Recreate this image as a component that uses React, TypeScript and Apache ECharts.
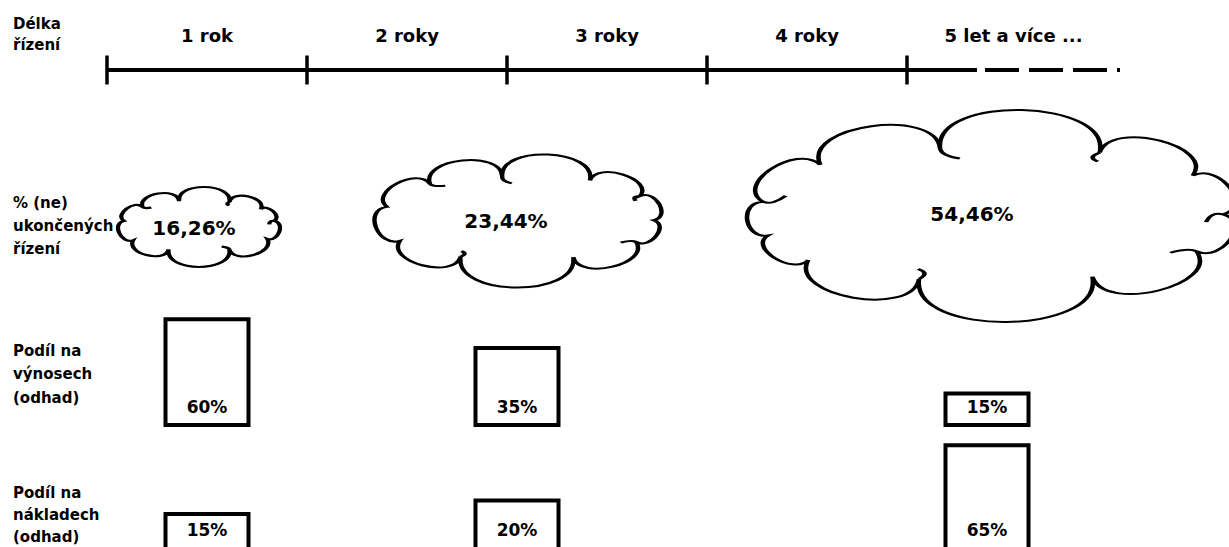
import React, { useEffect, useRef } from 'react';
import * as echarts from 'echarts';

// ---------- data ----------
const periods = ['1 rok', '2 roky', '3 roky', '4 roky', '5 let a více ...'];
const timelineTicks = [0, 1, 2, 3, 4]; // years
const timelineSolidEnd = 4.35;
const timelineDashStart = 4.39;
const timelineEnd = 5.065;

const groupYears = [0.5, 2.05, 4.4];
const unfinishedShare = [16.26, 23.44, 54.46]; // % (ne)ukončených řízení
const revenueShare = [60, 35, 15]; // Podíl na výnosech (odhad)
const costShare = [15, 20, 65]; // Podíl na nákladech (odhad)

const rowLabels = [
  'Délka\nřízení',
  '% (ne)\nukončených\nřízení',
  'Podíl na\nvýnosech\n(odhad)',
  'Podíl na\nnákladech\n(odhad)',
];

// ---------- styles ----------
const FONT = '"DejaVu Sans", "Liberation Sans", sans-serif';
const INK = '#000';
const X_MAX = 5.61; // 200 px per year from x=107
const cloudSizes = [
  [162, 80],
  [287, 133],
  [488, 212],
];
const cloudOffsets = [
  [-8, 7],
  [1, 1],
  [4, -4],
];
const cloudLabelOffsets = [
  [-5, 1],
  [-12, 0],
  [-19, -2],
];

function cloudPath(angles: number[], curls: number[]): string {
  const cx = 100, cy = 50, rx = 80, ry = 34, p = 0.85;
  const sp = (v: number) => Math.sign(v) * Math.pow(Math.abs(v), p);
  const pts = angles.map((a) => {
    const r = (a * Math.PI) / 180;
    return [cx + rx * sp(Math.cos(r)), cy + ry * sp(Math.sin(r))];
  });
  const f = (v: number) => v.toFixed(2);
  const n = pts.length;
  let d = `M${f(pts[0][0])} ${f(pts[0][1])}`;
  for (let i = 0; i < n; i++) {
    const A = pts[i];
    const B = pts[(i + 1) % n];
    const dx = B[0] - A[0];
    const dy = B[1] - A[1];
    const len = Math.hypot(dx, dy);
    const nx = dy / len;
    const ny = -dx / len;
    const k = 0.5 * len;
    const c1 = [A[0] + nx * k - dx * 0.06, A[1] + ny * k - dy * 0.06];
    const c2 = [B[0] + nx * k + dx * 0.06, B[1] + ny * k + dy * 0.06];
    d += ` C${f(c1[0])} ${f(c1[1])} ${f(c2[0])} ${f(c2[1])} ${f(B[0])} ${f(B[1])}`;
  }
  d += ' Z';
  curls.forEach((i) => {
    const P = pts[i];
    let ux = cx - P[0];
    let uy = cy - P[1];
    const ul = Math.hypot(ux, uy);
    ux /= ul;
    uy /= ul;
    const prev = pts[(i - 1 + n) % n];
    const next = pts[(i + 1) % n];
    let tx = next[0] - prev[0];
    let ty = next[1] - prev[1];
    const tl = Math.hypot(tx, ty);
    tx /= tl;
    ty /= tl;
    const q1 = [P[0] + ux * 4 - tx * 1.5, P[1] + uy * 4 - ty * 1.5];
    const q2 = [P[0] + ux * 6 + tx * 4, P[1] + uy * 6 + ty * 4];
    d += ` M${f(P[0])} ${f(P[1])} Q${f(q1[0])} ${f(q1[1])} ${f(q2[0])} ${f(q2[1])}`;
  });
  return 'path://' + d;
}

const cloudSymbols = [
  cloudPath([-172, -135, -102, -70, -38, -8, 28, 70, 110, 148], [1, 3, 5, 7]),
  cloudPath([-168, -128, -95, -62, -28, 2, 32, 70, 112, 150], [1, 2, 4, 6, 8]),
  cloudPath([-172, -135, -100, -66, -32, 0, 30, 68, 105, 140, 165], [0, 2, 3, 5, 6, 8]),
];

export default function App() {
  const ref = useRef<HTMLDivElement>(null);

  useEffect(() => {
    if (!ref.current) return;
    const chart = echarts.init(ref.current, undefined, { renderer: 'svg' });

    const grids = [
      { left: 107, right: 0, top: 0, height: 140 },
      { left: 107, right: 0, top: 100, height: 240 },
      { left: 107, right: 0, top: 289.9, height: 135.1 },
      { left: 107, right: 0, top: 423, height: 124 },
    ];

    const xAxes = grids.map((_, i) => ({
      gridIndex: i,
      type: 'value',
      min: 0,
      max: X_MAX,
      show: false,
    }));

    const yAxes = [
      { gridIndex: 0, type: 'value', min: -1, max: 1, show: false },
      { gridIndex: 1, type: 'value', min: -1, max: 1, show: false },
      { gridIndex: 2, type: 'log', min: 8, max: 100, show: false },
      { gridIndex: 3, type: 'log', min: 7.1, max: 100, show: false },
    ];

    const periodMids = periods.map((_, i) => {
      const a = timelineTicks[i];
      const b = i + 1 < timelineTicks.length ? timelineTicks[i + 1] : timelineEnd;
      return (a + b) / 2;
    });

    const barLabel = (distance: number) => ({
      show: true,
      position: 'insideBottom',
      distance,
      formatter: (p: any) => `${p.value[1]}%`,
      fontFamily: FONT,
      fontWeight: 'bold',
      fontSize: 17,
      color: INK,
    });

    const barStyle = {
      color: '#fff',
      borderColor: '#000',
      borderWidth: 4,
      opacity: 1,
    };

    const option: any = {
      animation: false,
      backgroundColor: '#fff',
      grid: grids,
      xAxis: xAxes,
      yAxis: yAxes,
      graphic: [
        { x: 13, y: 13.5, lh: 21 },
        { x: 13, y: 191.5, lh: 23 },
        { x: 13, y: 339, lh: 23.5 },
        { x: 13, y: 482, lh: 22 },
      ].map((pos, i) => ({
        type: 'text',
        x: pos.x,
        y: pos.y,
        style: {
          text: rowLabels[i],
          fontFamily: FONT,
          fontWeight: 'bold',
          fontSize: 15,
          lineHeight: pos.lh,
          fill: INK,
          verticalAlign: 'top',
          align: 'left',
        },
      })),
      series: [
        {
          type: 'line',
          xAxisIndex: 0,
          yAxisIndex: 0,
          data: [
            [timelineTicks[0], 0],
            [timelineSolidEnd, 0],
          ],
          symbol: 'none',
          lineStyle: { color: '#000', width: 4, cap: 'butt', opacity: 1 },
          silent: true,
        },
        {
          type: 'line',
          xAxisIndex: 0,
          yAxisIndex: 0,
          data: [
            [timelineDashStart, 0],
            [timelineEnd, 0],
          ],
          symbol: 'none',
          lineStyle: { color: '#000', width: 4, type: [34, 10], cap: 'butt', opacity: 1 },
          silent: true,
        },
        {
          type: 'scatter',
          xAxisIndex: 0,
          yAxisIndex: 0,
          data: timelineTicks.map((t) => [t, 0]),
          symbol: 'rect',
          symbolSize: [3.5, 29],
          itemStyle: { color: '#000', opacity: 1 },
          silent: true,
        },
        {
          type: 'scatter',
          xAxisIndex: 0,
          yAxisIndex: 0,
          data: periods.map((name, i) => ({ name, value: [periodMids[i], 0] })),
          symbolSize: 1,
          itemStyle: { color: 'rgba(255,255,255,0)', opacity: 1 },
          label: {
            show: true,
            position: 'inside',
            offset: [0, -35],
            formatter: '{b}',
            fontFamily: FONT,
            fontWeight: 'bold',
            fontSize: 18,
            color: INK,
            opacity: 1,
          },
          silent: true,
        },
        {
          type: 'scatter',
          xAxisIndex: 1,
          yAxisIndex: 1,
          data: unfinishedShare.map((v, i) => ({
            value: [groupYears[i], 0, v],
            symbol: cloudSymbols[i],
            symbolSize: cloudSizes[i],
            symbolOffset: cloudOffsets[i],
            label: { offset: cloudLabelOffsets[i] },
          })),
          itemStyle: { color: '#fff', borderColor: '#000', borderWidth: 3, opacity: 1 },
          label: {
            show: true,
            position: 'inside',
            formatter: (p: any) => `${p.value[2].toFixed(2).replace('.', ',')}%`,
            fontFamily: FONT,
            fontWeight: 'bold',
            fontSize: 20,
            color: INK,
            opacity: 1,
          },
          silent: true,
        },
        {
          type: 'bar',
          xAxisIndex: 2,
          yAxisIndex: 2,
          data: revenueShare.map((v, i) => [groupYears[i], v]),
          barWidth: 87,
          clip: true,
          itemStyle: barStyle,
          label: barLabel(12),
          silent: true,
        },
        {
          type: 'bar',
          xAxisIndex: 3,
          yAxisIndex: 3,
          data: costShare.map((v, i) => [groupYears[i], v]),
          barWidth: 87,
          clip: false,
          itemStyle: barStyle,
          label: barLabel(100),
          silent: true,
        },
      ],
    };

    chart.setOption(option);
    return () => chart.dispose();
  }, []);

  return (
    <div
      ref={ref}
      style={{ position: 'fixed', left: 0, top: 0, width: 1229, height: 547, background: '#fff' }}
    />
  );
}
